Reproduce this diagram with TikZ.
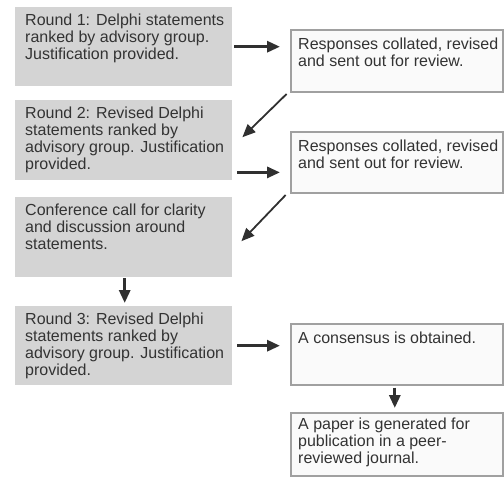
\documentclass[tikz,border=0pt]{standalone}
\usepackage{fontspec}
\setmainfont{Liberation Sans}
\usetikzlibrary{arrows.meta,calc}
\definecolor{txt}{HTML}{333333}
\definecolor{lfill}{HTML}{D4D4D4}
\definecolor{rdraw}{HTML}{A0A0A0}
\definecolor{rfill}{HTML}{FAFAFA}
\definecolor{arr}{HTML}{303030}
\tikzset{
  lbox/.style={fill=lfill, inner sep=0pt, anchor=north west},
  rbox/.style={draw=rdraw, line width=1.6pt, fill=rfill, inner sep=0pt, anchor=north west},
  btext/.style={align=left, inner sep=0pt, anchor=north west, text=txt,
    font=\fontsize{16}{17}\selectfont},
  harrow/.style={draw=arr, line width=3pt, -{Triangle[length=13pt,width=11pt]}},
  darrow/.style={draw=arr, line width=1.8pt, -{Triangle[length=13pt,width=11pt]}},
}
\begin{document}
\begin{tikzpicture}[x=1pt,y=-1pt]
\useasboundingbox (0,0) rectangle (504,477);
% left boxes
\node[lbox, minimum width=217pt, minimum height=79pt] (L1) at (15,7) {};
\node[lbox, minimum width=217pt, minimum height=80pt] (L2) at (15,100) {};
\node[lbox, minimum width=217pt, minimum height=80pt] (L3) at (15,197) {};
\node[lbox, minimum width=217pt, minimum height=79pt] (L4) at (15,306) {};
% right boxes
\node[rbox, minimum width=212pt, minimum height=62pt] (R1) at (290,29) {};
\node[rbox, minimum width=212pt, minimum height=61pt] (R2) at (290,131) {};
\node[rbox, minimum width=212pt, minimum height=61pt] (R3) at (290,323) {};
\node[rbox, minimum width=212pt, minimum height=63pt] (R4) at (290,412) {};
% texts
\node[btext] (t1) at ($(L1.north west)+(10,7)$) {Round 1: Delphi statements\\ranked by advisory group.\\Justification provided.};
\node[btext] (t2) at ($(L2.north west)+(10,7)$) {Round 2: Revised Delphi\\statements ranked by\\advisory group. Justification\\provided.};
\node[btext] (t3) at ($(L3.north west)+(10,7)$) {Conference call for clarity\\and discussion around\\statements.};
\node[btext] (t4) at ($(L4.north west)+(10,7)$) {Round 3: Revised Delphi\\statements ranked by\\advisory group. Justification\\provided.};
\node[btext] (t5) at ($(R1.north west)+(8,9)$) {Responses collated, revised\\and sent out for review.};
\node[btext] (t6) at ($(R2.north west)+(8,9)$) {Responses collated, revised\\and sent out for review.};
\node[btext] (t7) at ($(R3.north west)+(8,9)$) {A consensus is obtained.};
\node[btext] (t8) at ($(R4.north west)+(8,6)$) {A paper is generated for\\publication in a peer-\\reviewed journal.};
% connectors
\coordinate (a2) at ($(L2.south east)+(0,-8)$);
\draw[harrow, shorten <=2pt, shorten >=10pt] (L1.east) -- (L1.east -| R1.west);
\draw[harrow, shorten <=5pt, shorten >=10pt] (a2) -- (a2 -| R2.west);
\draw[harrow, shorten <=5pt, shorten >=10pt] (L4.east) -- (L4.east -| R3.west);
\draw[darrow, shorten <=2pt] ($(R1.south west)+(-2,0)$) -- ($(L2.east)+(10,-3)$);
\draw[darrow, shorten <=2pt] ($(R2.south west)+(-3,0)$) -- ($(L3.east)+(9,4)$);
\draw[harrow, shorten <=1pt, shorten >=3pt] ($(L3.south)+(1,0)$) -- ($(L4.north)+(1,0)$);
\draw[harrow, shorten <=2pt, shorten >=4pt] ($(R3.south)+(-2,0)$) -- ($(R4.north)+(-2,0)$);
\end{tikzpicture}
\end{document}
